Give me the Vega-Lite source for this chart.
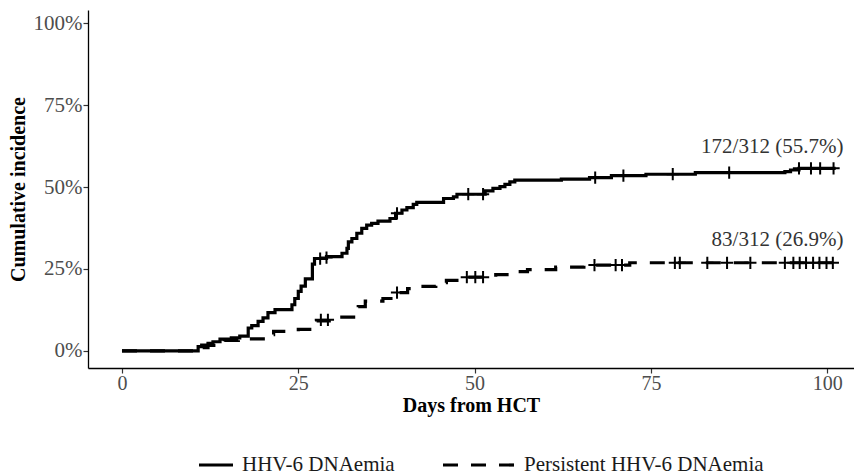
{
  "$schema": "https://vega.github.io/schema/vega-lite/v6.json",
  "width": 766,
  "height": 358,
  "autosize": {"type": "none"},
  "padding": {"left": 88, "top": 10, "right": 0, "bottom": 107},
  "background": "white",
  "config": {
    "view": {"stroke": null},
    "font": "Liberation Serif",
    "axis": {
      "grid": false,
      "domainColor": "black",
      "domainWidth": 1.3,
      "tickColor": "#333333",
      "tickWidth": 1.2,
      "tickSize": 5,
      "labelFont": "Liberation Serif",
      "labelFontSize": 21,
      "labelColor": "#4d4d4d",
      "titleFont": "Liberation Serif",
      "titleFontSize": 20,
      "titleFontWeight": "bold",
      "titleColor": "black"
    },
    "legend": {
      "labelFont": "Liberation Serif",
      "labelFontSize": 21,
      "labelColor": "#1a1a1a",
      "labelLimit": 500,
      "symbolStrokeColor": "black",
      "symbolStrokeWidth": 3.2,
      "symbolType": "stroke",
      "labelOffset": 7,
      "titleFontSize": 0,
      "padding": 0
    }
  },
  "datasets": {
    "curves": [
      {"series": "HHV-6 DNAemia", "day": 0, "ci": 0},
      {"series": "HHV-6 DNAemia", "day": 10.8, "ci": 0.013},
      {"series": "HHV-6 DNAemia", "day": 11.3, "ci": 0.018},
      {"series": "HHV-6 DNAemia", "day": 12.2, "ci": 0.023},
      {"series": "HHV-6 DNAemia", "day": 12.9, "ci": 0.028},
      {"series": "HHV-6 DNAemia", "day": 13.9, "ci": 0.036},
      {"series": "HHV-6 DNAemia", "day": 15.5, "ci": 0.04},
      {"series": "HHV-6 DNAemia", "day": 16.7, "ci": 0.045},
      {"series": "HHV-6 DNAemia", "day": 17.9, "ci": 0.07},
      {"series": "HHV-6 DNAemia", "day": 18.4, "ci": 0.077},
      {"series": "HHV-6 DNAemia", "day": 19.3, "ci": 0.09},
      {"series": "HHV-6 DNAemia", "day": 20.0, "ci": 0.101},
      {"series": "HHV-6 DNAemia", "day": 20.7, "ci": 0.117},
      {"series": "HHV-6 DNAemia", "day": 21.7, "ci": 0.126},
      {"series": "HHV-6 DNAemia", "day": 24.1, "ci": 0.141},
      {"series": "HHV-6 DNAemia", "day": 24.5, "ci": 0.16},
      {"series": "HHV-6 DNAemia", "day": 25.0, "ci": 0.182},
      {"series": "HHV-6 DNAemia", "day": 25.4, "ci": 0.198},
      {"series": "HHV-6 DNAemia", "day": 26.0, "ci": 0.22},
      {"series": "HHV-6 DNAemia", "day": 27.0, "ci": 0.265},
      {"series": "HHV-6 DNAemia", "day": 27.3, "ci": 0.282},
      {"series": "HHV-6 DNAemia", "day": 29.0, "ci": 0.288},
      {"series": "HHV-6 DNAemia", "day": 31.2, "ci": 0.298},
      {"series": "HHV-6 DNAemia", "day": 31.9, "ci": 0.313},
      {"series": "HHV-6 DNAemia", "day": 32.1, "ci": 0.333},
      {"series": "HHV-6 DNAemia", "day": 32.6, "ci": 0.343},
      {"series": "HHV-6 DNAemia", "day": 33.3, "ci": 0.359},
      {"series": "HHV-6 DNAemia", "day": 34.0, "ci": 0.374},
      {"series": "HHV-6 DNAemia", "day": 34.7, "ci": 0.384},
      {"series": "HHV-6 DNAemia", "day": 35.4, "ci": 0.389},
      {"series": "HHV-6 DNAemia", "day": 36.3, "ci": 0.396},
      {"series": "HHV-6 DNAemia", "day": 38.0, "ci": 0.404},
      {"series": "HHV-6 DNAemia", "day": 38.8, "ci": 0.42},
      {"series": "HHV-6 DNAemia", "day": 39.7, "ci": 0.43},
      {"series": "HHV-6 DNAemia", "day": 40.4, "ci": 0.437},
      {"series": "HHV-6 DNAemia", "day": 41.3, "ci": 0.447},
      {"series": "HHV-6 DNAemia", "day": 41.8, "ci": 0.453},
      {"series": "HHV-6 DNAemia", "day": 45.6, "ci": 0.465},
      {"series": "HHV-6 DNAemia", "day": 47.0, "ci": 0.47},
      {"series": "HHV-6 DNAemia", "day": 47.5, "ci": 0.478},
      {"series": "HHV-6 DNAemia", "day": 51.5, "ci": 0.488},
      {"series": "HHV-6 DNAemia", "day": 52.6, "ci": 0.496},
      {"series": "HHV-6 DNAemia", "day": 53.6, "ci": 0.501},
      {"series": "HHV-6 DNAemia", "day": 54.3, "ci": 0.508},
      {"series": "HHV-6 DNAemia", "day": 55.0, "ci": 0.516},
      {"series": "HHV-6 DNAemia", "day": 55.7, "ci": 0.521},
      {"series": "HHV-6 DNAemia", "day": 62.3, "ci": 0.524},
      {"series": "HHV-6 DNAemia", "day": 66.3, "ci": 0.529},
      {"series": "HHV-6 DNAemia", "day": 69.4, "ci": 0.535},
      {"series": "HHV-6 DNAemia", "day": 74.3, "ci": 0.539},
      {"series": "HHV-6 DNAemia", "day": 81.3, "ci": 0.544},
      {"series": "HHV-6 DNAemia", "day": 94.0, "ci": 0.547},
      {"series": "HHV-6 DNAemia", "day": 94.8, "ci": 0.552},
      {"series": "HHV-6 DNAemia", "day": 96.0, "ci": 0.557},
      {"series": "HHV-6 DNAemia", "day": 101.2, "ci": 0.557},
      {"series": "Persistent HHV-6 DNAemia", "day": 0, "ci": 0},
      {"series": "Persistent HHV-6 DNAemia", "day": 10.8, "ci": 0.01},
      {"series": "Persistent HHV-6 DNAemia", "day": 12.2, "ci": 0.017},
      {"series": "Persistent HHV-6 DNAemia", "day": 13.5, "ci": 0.025},
      {"series": "Persistent HHV-6 DNAemia", "day": 14.5, "ci": 0.032},
      {"series": "Persistent HHV-6 DNAemia", "day": 16.5, "ci": 0.037},
      {"series": "Persistent HHV-6 DNAemia", "day": 20.5, "ci": 0.05},
      {"series": "Persistent HHV-6 DNAemia", "day": 21.5, "ci": 0.06},
      {"series": "Persistent HHV-6 DNAemia", "day": 25.0, "ci": 0.066},
      {"series": "Persistent HHV-6 DNAemia", "day": 27.6, "ci": 0.092},
      {"series": "Persistent HHV-6 DNAemia", "day": 30.0, "ci": 0.103},
      {"series": "Persistent HHV-6 DNAemia", "day": 33.5, "ci": 0.135},
      {"series": "Persistent HHV-6 DNAemia", "day": 34.5, "ci": 0.152},
      {"series": "Persistent HHV-6 DNAemia", "day": 37.0, "ci": 0.16},
      {"series": "Persistent HHV-6 DNAemia", "day": 38.8, "ci": 0.178},
      {"series": "Persistent HHV-6 DNAemia", "day": 40.5, "ci": 0.19},
      {"series": "Persistent HHV-6 DNAemia", "day": 41.5, "ci": 0.197},
      {"series": "Persistent HHV-6 DNAemia", "day": 44.5, "ci": 0.208},
      {"series": "Persistent HHV-6 DNAemia", "day": 46.0, "ci": 0.215},
      {"series": "Persistent HHV-6 DNAemia", "day": 48.0, "ci": 0.225},
      {"series": "Persistent HHV-6 DNAemia", "day": 53.0, "ci": 0.233},
      {"series": "Persistent HHV-6 DNAemia", "day": 55.0, "ci": 0.242},
      {"series": "Persistent HHV-6 DNAemia", "day": 57.5, "ci": 0.248},
      {"series": "Persistent HHV-6 DNAemia", "day": 61.5, "ci": 0.256},
      {"series": "Persistent HHV-6 DNAemia", "day": 65.5, "ci": 0.262},
      {"series": "Persistent HHV-6 DNAemia", "day": 72.0, "ci": 0.269},
      {"series": "Persistent HHV-6 DNAemia", "day": 101.2, "ci": 0.269}
    ],
    "censor": [
      {"day": 28.1, "ci": 0.282},
      {"day": 29.0, "ci": 0.285},
      {"day": 39.0, "ci": 0.42},
      {"day": 49.1, "ci": 0.478},
      {"day": 51.2, "ci": 0.478},
      {"day": 67.1, "ci": 0.529},
      {"day": 71.1, "ci": 0.535},
      {"day": 78.1, "ci": 0.539},
      {"day": 86.1, "ci": 0.544},
      {"day": 96.0, "ci": 0.557},
      {"day": 97.7, "ci": 0.557},
      {"day": 99.0, "ci": 0.557},
      {"day": 100.9, "ci": 0.557},
      {"day": 28.2, "ci": 0.095},
      {"day": 29.2, "ci": 0.095},
      {"day": 39.0, "ci": 0.178},
      {"day": 48.9, "ci": 0.225},
      {"day": 50.1, "ci": 0.225},
      {"day": 51.2, "ci": 0.225},
      {"day": 67.0, "ci": 0.262},
      {"day": 70.0, "ci": 0.262},
      {"day": 70.9, "ci": 0.262},
      {"day": 78.4, "ci": 0.269},
      {"day": 79.1, "ci": 0.269},
      {"day": 83.0, "ci": 0.269},
      {"day": 85.8, "ci": 0.269},
      {"day": 89.1, "ci": 0.269},
      {"day": 94.0, "ci": 0.269},
      {"day": 95.2, "ci": 0.269},
      {"day": 96.1, "ci": 0.269},
      {"day": 97.0, "ci": 0.269},
      {"day": 98.0, "ci": 0.269},
      {"day": 98.9, "ci": 0.269},
      {"day": 99.9, "ci": 0.269},
      {"day": 100.8, "ci": 0.269}
    ],
    "labels": [
      {"day": 102.3, "ci": 0.622, "label": "172/312 (55.7%)"},
      {"day": 102.3, "ci": 0.338, "label": "83/312 (26.9%)"}
    ]
  },
  "encoding": {
    "x": {
      "field": "day",
      "type": "quantitative",
      "scale": {"domain": [-4.82, 103.8], "nice": false, "zero": false},
      "axis": {"values": [0, 25, 50, 75, 100], "title": "Days from HCT", "labelFontSize": 20, "labelPadding": 0, "titlePadding": 2}
    },
    "y": {
      "field": "ci",
      "type": "quantitative",
      "scale": {"domain": [-0.052, 1.04], "nice": false, "zero": false},
      "axis": {"values": [0, 0.25, 0.5, 0.75, 1], "format": ".0%", "title": "Cumulative incidence", "labelPadding": 1, "titlePadding": 5}
    }
  },
  "layer": [
    {
      "data": {"name": "curves"},
      "transform": [{"filter": "datum.series === 'HHV-6 DNAemia'"}],
      "mark": {"type": "line", "interpolate": "step-after", "strokeWidth": 3.2, "color": "black"},
      "encoding": {
        "color": {
          "field": "series",
          "type": "nominal",
          "scale": {"domain": ["HHV-6 DNAemia"], "range": ["black"]},
          "legend": {"title": null, "orient": "none", "legendX": 109, "legendY": 436, "symbolSize": 1156}
        }
      }
    },
    {
      "data": {"name": "curves"},
      "transform": [{"filter": "datum.series === 'Persistent HHV-6 DNAemia'"}],
      "mark": {"type": "line", "interpolate": "step-after", "strokeWidth": 3.2, "color": "black"},
      "encoding": {
        "strokeDash": {
          "field": "series",
          "type": "nominal",
          "scale": {"domain": ["Persistent HHV-6 DNAemia"], "range": [[15, 13]]},
          "legend": {"title": null, "orient": "none", "legendX": 353, "legendY": 417, "symbolSize": 5184}
        }
      }
    },
    {
      "data": {"name": "censor"},
      "mark": {"type": "point", "shape": "M-1,0H1M0,-1V1", "filled": false, "size": 150, "strokeWidth": 2, "color": "black", "opacity": 1}
    },
    {
      "data": {"name": "labels"},
      "mark": {"type": "text", "align": "right", "baseline": "middle", "fontSize": 21, "font": "Liberation Serif", "color": "#333333"},
      "encoding": {"text": {"field": "label"}}
    }
  ]
}
